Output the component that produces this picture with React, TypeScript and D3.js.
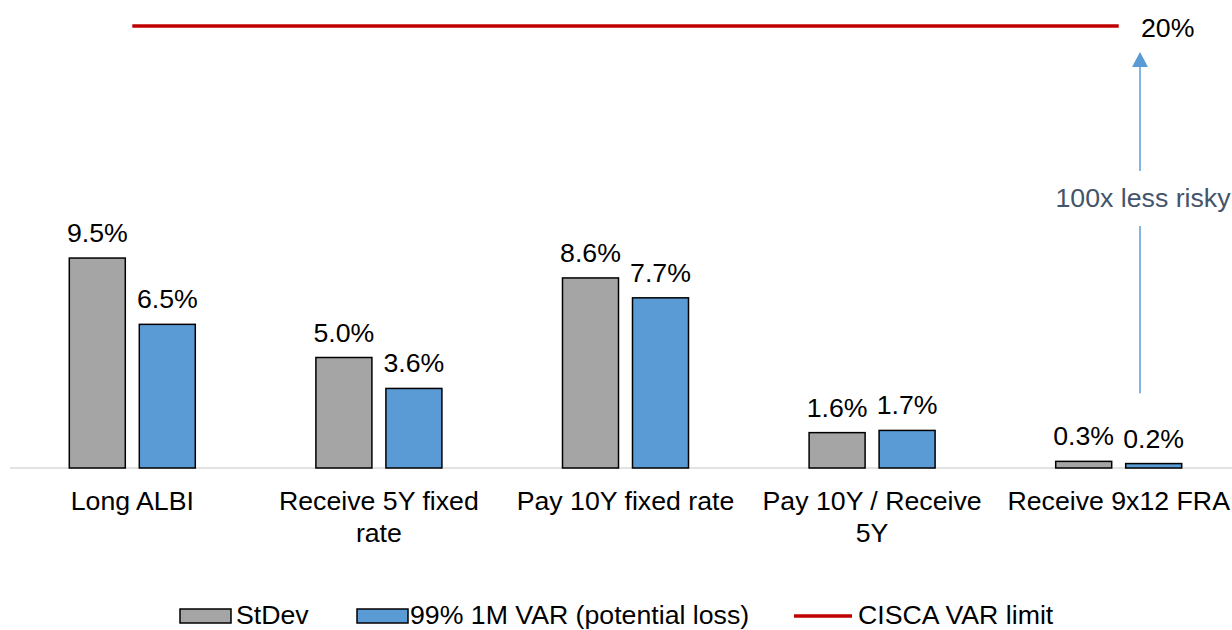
import React, { useEffect, useRef } from 'react';
import * as d3 from 'd3';

const categories = ['Long ALBI', 'Receive 5Y fixed rate', 'Pay 10Y fixed rate', 'Pay 10Y / Receive 5Y', 'Receive 9x12 FRA'];
const stdev = [9.5, 5.0, 8.6, 1.6, 0.3];
const var99 = [6.5, 3.6, 7.7, 1.7, 0.2];
const varLimit = [20, 20, 20, 20, 20];
const seriesNames = ['StDev', '99% 1M VAR (potential loss)'];
const limitName = 'CISCA VAR limit';
const limitLabel = '20%';
const arrowNote = '100x less risky';

const FONT = '"Liberation Sans", Arial, sans-serif';
const FS = '26.7px';
const GRAY = '#A5A5A5';
const BLUE = '#5B9BD5';
const RED = '#C00000';

const App = () => {
    const wrapper = useRef(null);
    const width = 1232;
    const height = 630;

    useEffect(() => {
        document.body.style.margin = '0';
        const svg = d3.select(wrapper.current);
        svg.selectAll('*').remove();

        const x0 = d3.scaleBand()
            .domain(categories)
            .range([9, 1242])
            .padding(0);
        const bw = x0.bandwidth();
        const x1 = d3.scaleBand()
            .domain(seriesNames)
            .range([bw / 2 - 63, bw / 2 + 63])
            .paddingInner(0.2)
            .paddingOuter(0);
        const y = d3.scaleLinear()
            .domain([0, 20])
            .range([468, 26]);

        const fmt = (v: number) => d3.format('.1f')(v) + '%';

        // baseline
        svg.append('line')
            .attr('x1', 10).attr('x2', width)
            .attr('y1', y(0)).attr('y2', y(0))
            .attr('stroke', '#D9D9D9')
            .attr('stroke-width', 1.5);

        const rows = categories.map((c, i) => ({ c, vals: [stdev[i], var99[i]] }));
        const colors = [GRAY, BLUE];

        const groups = svg.append('g')
            .selectAll('g')
            .data(rows)
            .join('g')
            .attr('transform', d => `translate(${x0(d.c)},0)`);

        groups.selectAll('rect')
            .data(d => d.vals.map((v, k) => ({ v, k })))
            .join('rect')
            .attr('x', d => x1(seriesNames[d.k]))
            .attr('width', x1.bandwidth())
            .attr('y', d => y(d.v))
            .attr('height', d => y(0) - y(d.v))
            .attr('fill', d => colors[d.k])
            .attr('stroke', '#000')
            .attr('stroke-width', 1.5);

        groups.selectAll('text.val')
            .data(d => d.vals.map((v, k) => ({ v, k })))
            .join('text')
            .attr('class', 'val')
            .attr('x', d => x1(seriesNames[d.k]) + x1.bandwidth() / 2)
            .attr('y', d => y(d.v) - 16)
            .attr('text-anchor', 'middle')
            .style('font-family', FONT)
            .style('font-size', FS)
            .attr('fill', '#000')
            .text(d => fmt(d.v));

        // category labels with wrapping
        const labels = svg.append('g')
            .selectAll('text')
            .data(categories)
            .join('text')
            .attr('x', d => x0(d) + bw / 2)
            .attr('y', 510)
            .attr('text-anchor', 'middle')
            .style('font-family', FONT)
            .style('font-size', FS)
            .attr('fill', '#000');

        labels.each(function (d) {
            const t = d3.select(this);
            const words = d.split(' ');
            let line: string[] = [];
            let tspan = t.append('tspan').attr('x', x0(d) + bw / 2).attr('dy', 0);
            words.forEach(w => {
                line.push(w);
                tspan.text(line.join(' '));
                if ((tspan.node() as SVGTSpanElement).getComputedTextLength() > 238 && line.length > 1) {
                    line.pop();
                    tspan.text(line.join(' '));
                    line = [w];
                    tspan = t.append('tspan').attr('x', x0(d) + bw / 2).attr('dy', 31.5).text(w);
                }
            });
        });

        // limit line
        const line = d3.line<number>()
            .x((d, i) => x0(categories[i]) + bw / 2)
            .y(d => y(d));
        svg.append('path')
            .datum(varLimit)
            .attr('d', line)
            .attr('fill', 'none')
            .attr('stroke', RED)
            .attr('stroke-width', 3.5);

        svg.append('text')
            .attr('x', 1141)
            .attr('y', y(varLimit[4]) + 10.5)
            .style('font-family', FONT)
            .style('font-size', FS)
            .attr('fill', '#000')
            .text(limitLabel);

        // arrow
        const ax = 1140;
        const arrowTop = y(varLimit[4]) + 26;
        const arrowBottom = y(stdev[4]) - 68;
        svg.append('line')
            .attr('x1', ax).attr('x2', ax)
            .attr('y1', arrowTop + 14).attr('y2', 171)
            .attr('stroke', BLUE).attr('stroke-width', 1.5);
        svg.append('line')
            .attr('x1', ax).attr('x2', ax)
            .attr('y1', 226).attr('y2', arrowBottom)
            .attr('stroke', BLUE).attr('stroke-width', 1.5);
        svg.append('path')
            .attr('d', `M${ax},${arrowTop} L${ax - 8},${arrowTop + 15} L${ax + 8},${arrowTop + 15} Z`)
            .attr('fill', BLUE);
        svg.append('text')
            .attr('x', 1143)
            .attr('y', 207)
            .attr('text-anchor', 'middle')
            .style('font-family', FONT)
            .style('font-size', FS)
            .attr('fill', '#44546A')
            .text(arrowNote);

        // legend
        const lg = svg.append('g');
        const ly = 624;
        lg.append('rect').attr('x', 180).attr('y', 609).attr('width', 51).attr('height', 14)
            .attr('fill', GRAY).attr('stroke', '#000').attr('stroke-width', 1.5);
        lg.append('text').attr('x', 236).attr('y', ly)
            .style('font-family', FONT).style('font-size', FS).text(seriesNames[0]);
        lg.append('rect').attr('x', 357).attr('y', 609).attr('width', 51).attr('height', 14)
            .attr('fill', BLUE).attr('stroke', '#000').attr('stroke-width', 1.5);
        lg.append('text').attr('x', 410).attr('y', ly)
            .style('font-family', FONT).style('font-size', FS).text(seriesNames[1]);
        lg.append('line').attr('x1', 794).attr('x2', 852).attr('y1', 616).attr('y2', 616)
            .attr('stroke', RED).attr('stroke-width', 3.5);
        lg.append('text').attr('x', 858).attr('y', ly)
            .style('font-family', FONT).style('font-size', FS).text(limitName);
    }, []);

    return (
        <svg ref={wrapper} width={width} height={height} style={{ display: 'block', background: '#fff' }} />
    );
};

export default App;
